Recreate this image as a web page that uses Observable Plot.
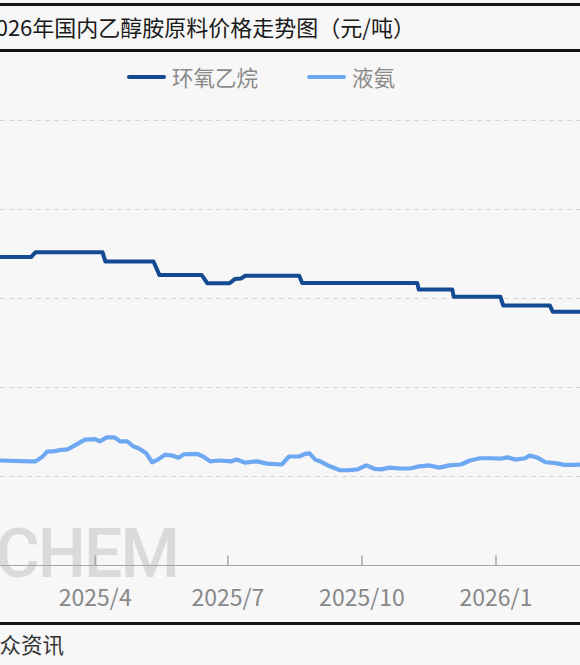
<!DOCTYPE html>
<html><head><meta charset="utf-8">
<script src="https://cdn.jsdelivr.net/npm/d3@7"></script>
<script src="https://cdn.jsdelivr.net/npm/@observablehq/plot@0.6"></script>
<style>
html,body{margin:0;padding:0;background:#f7f7f7;}
#wrap{position:relative;width:580px;height:665px;overflow:hidden;background:#f7f7f7;font-family:"Noto Sans CJK SC","Noto Sans",sans-serif;}
#titlebox{position:absolute;left:-10px;top:3px;width:600px;height:43px;border-top:3px solid #151515;border-bottom:3px solid #151515;}
#title{position:absolute;left:-73px;top:2px;height:49px;line-height:49px;font-size:22px;color:#1a1a1a;white-space:nowrap;}
.sw{position:absolute;height:4px;border-radius:2px;top:75px;width:39px;}
.lt{position:absolute;top:62px;line-height:30px;font-size:21.5px;color:#8a8a8a;white-space:nowrap;}
#wm{position:absolute;right:402px;top:527px;font-family:Roboto,sans-serif;font-weight:500;font-size:68px;line-height:54px;color:#dadada;white-space:nowrap;letter-spacing:-2px;}
#chart{position:absolute;left:0;top:100px;}
#footline{position:absolute;left:-10px;width:600px;top:622px;height:0;border-top:3px solid #151515;}
#source{position:absolute;right:516px;top:629px;line-height:30px;font-size:21.5px;color:#333;white-space:nowrap;}
</style></head><body>
<div id="wrap">
  <div id="titlebox"></div>
  <div id="title">2025-2026年国内乙醇胺原料价格走势图（元/吨）</div>
  <div id="legend"></div>
  <div id="wm">OILCHEM</div>
  <div id="chart"></div>
  <div id="footline"></div>
  <div id="source">数据来源：隆众资讯</div>
</div>
<script>
const seriesNames = ["环氧乙烷", "液氨"];
const seriesColors = ["#134a92", "#6ea8f3"];

const eoDates = ["2025-01-26","2025-02-16","2025-02-19","2025-04-06","2025-04-08","2025-05-11","2025-05-15","2025-06-13","2025-06-17","2025-07-02","2025-07-06","2025-07-10","2025-07-13","2025-08-19","2025-08-21","2025-11-08","2025-11-09","2025-12-02","2025-12-03","2026-01-04","2026-01-06","2026-02-07","2026-02-09","2026-02-28"];
const eoValues = [6930,6930,7040,7040,6830,6830,6530,6530,6340,6340,6440,6450,6510,6510,6350,6350,6200,6200,6040,6040,5840,5840,5700,5700];

const nh3Dates = ["2025-01-26","2025-02-15","2025-02-19","2025-02-24","2025-02-27","2025-03-04","2025-03-09","2025-03-13","2025-03-18","2025-03-25","2025-04-01","2025-04-04","2025-04-09","2025-04-14","2025-04-18","2025-04-23","2025-04-27","2025-05-01","2025-05-06","2025-05-10","2025-05-14","2025-05-19","2025-05-24","2025-05-28","2025-06-01","2025-06-10","2025-06-14","2025-06-19","2025-06-25","2025-07-03","2025-07-07","2025-07-13","2025-07-21","2025-07-28","2025-08-07","2025-08-12","2025-08-19","2025-08-23","2025-08-26","2025-08-30","2025-09-03","2025-09-09","2025-09-16","2025-09-22","2025-09-28","2025-10-04","2025-10-10","2025-10-14","2025-10-20","2025-10-27","2025-11-03","2025-11-08","2025-11-16","2025-11-23","2025-11-30","2025-12-08","2025-12-14","2025-12-21","2025-12-28","2026-01-04","2026-01-09","2026-01-14","2026-01-21","2026-01-24","2026-01-29","2026-02-04","2026-02-11","2026-02-17","2026-02-24","2026-02-28"];
const nh3Values = [2360,2340,2340,2450,2560,2570,2600,2610,2700,2830,2840,2790,2880,2880,2790,2790,2680,2630,2520,2320,2380,2490,2470,2420,2500,2510,2450,2340,2360,2340,2380,2310,2340,2290,2270,2450,2450,2510,2520,2380,2330,2230,2140,2140,2160,2250,2170,2160,2200,2180,2180,2220,2250,2200,2250,2270,2360,2410,2410,2400,2430,2380,2410,2470,2430,2320,2300,2260,2260,2270];

const xDomain = ["2025-01-26", "2026-02-28"];
const tickDates = ["2025-04-01","2025-07-01","2025-10-01","2026-01-01"];
const tickLabels = ["2025/4","2025/7","2025/10","2026/1"];
const yDomain = [0, 10000];
const yGrid = [2000, 4000, 6000, 8000, 10000];

const parse = d3.utcParse("%Y-%m-%d");
const eo = eoDates.map((d, i) => ({date: parse(d), value: eoValues[i]}));
const nh3 = nh3Dates.map((d, i) => ({date: parse(d), value: nh3Values[i]}));
const ticks = tickDates.map(parse);
const labelMap = new Map(ticks.map((t, i) => [+t, tickLabels[i]]));

// legend
const legend = document.getElementById("legend");
const swLeft = [127, 307], txLeft = [172, 352];
seriesNames.forEach((n, i) => {
  const s = document.createElement("div");
  s.className = "sw"; s.style.left = swLeft[i] + "px"; s.style.background = seriesColors[i];
  const t = document.createElement("div");
  t.className = "lt"; t.style.left = txLeft[i] + "px"; t.textContent = n;
  legend.appendChild(s); legend.appendChild(t);
});

const chart = Plot.plot({
  width: 580, height: 520,
  marginTop: 20, marginBottom: 55, marginLeft: 0, marginRight: 0,
  style: {background: "transparent", fontFamily: "'Noto Sans CJK SC', sans-serif", overflow: "visible"},
  x: {type: "utc", domain: xDomain.map(parse)},
  y: {domain: yDomain, axis: null},
  marks: [
    Plot.gridY(yGrid, {stroke: "#d6d6d6", strokeOpacity: 1, strokeDasharray: "5,4"}),
    Plot.ruleY([0], {stroke: "#a6a6a6", strokeWidth: 1.2}),
    Plot.vector(ticks, {x: d => d, y: 0, length: 10, rotate: 0, anchor: "start", stroke: "#a6a6a6", strokeWidth: 1, shape: "spike", r: 0}),
    Plot.axisX({ticks, tickSize: 0, tickPadding: 24, tickFormat: d => labelMap.get(+d), fill: "#888", fontSize: 23}),
    Plot.line(nh3, {x: "date", y: "value", stroke: seriesColors[1], strokeWidth: 4.2, curve: "linear"}),
    Plot.line(eo, {x: "date", y: "value", stroke: seriesColors[0], strokeWidth: 4, curve: "linear"})
  ]
});
document.getElementById("chart").appendChild(chart);
</script>
</body></html>
